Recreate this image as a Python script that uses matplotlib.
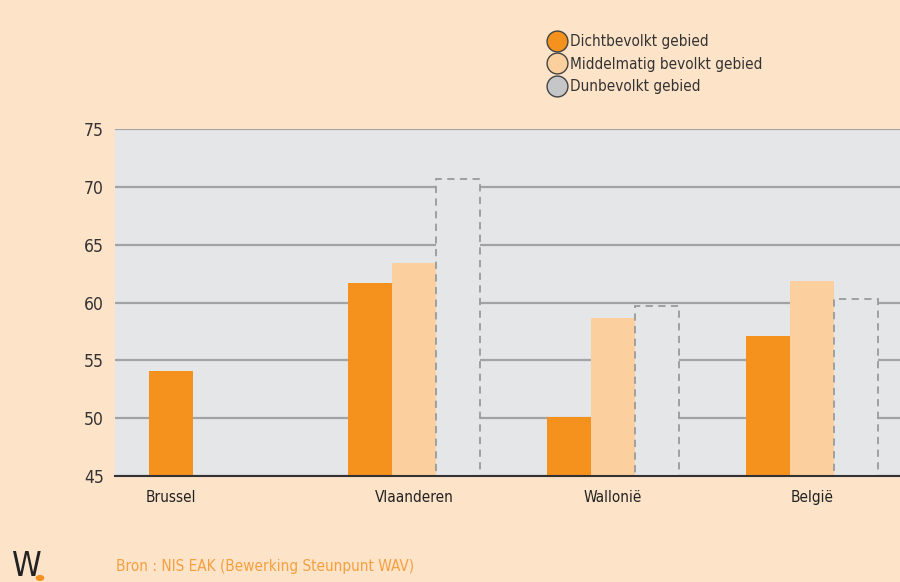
import matplotlib.pyplot as plt
from matplotlib.lines import Line2D
import numpy as np

regions = ['Brussel', 'Vlaanderen', 'Wallonië', 'België']
dicht = [54.1, 61.7, 50.1, 57.1]
middel = [None, 63.4, 58.7, 61.9]
dun = [None, 70.7, 59.7, 60.3]
series_names = ['Dichtbevolkt gebied', 'Middelmatig bevolkt gebied', 'Dunbevolkt gebied']
yticks = [45, 50, 55, 60, 65, 70, 75]

bg = '#fde3c8'
plotbg = '#e5e6e8'
orange = '#f5921e'
light = '#fccf9e'
greyline = '#a3a3a3'

plt.rcParams['font.family'] = ['DejaVu Sans']
plt.rcParams['font.stretch'] = 'condensed'

fig = plt.figure(figsize=(9, 5.82), dpi=100, facecolor=bg)
ax = fig.add_axes([115 / 900, 1 - 476 / 582, 785 / 900, 347 / 582])
ax.set_facecolor(plotbg)

x = np.arange(len(regions))
w = 0.22
base = 45
for i in range(len(regions)):
    if dicht[i] is not None:
        ax.bar(x[i] - w, dicht[i] - base, w, bottom=base, color=orange, zorder=3)
    if middel[i] is not None:
        ax.bar(x[i], middel[i] - base, w, bottom=base, color=light, zorder=3)
    if dun[i] is not None:
        ax.bar(x[i] + w, dun[i] - base, w, bottom=base, facecolor=plotbg,
               edgecolor='#9a9a9a', linestyle=(0, (4, 3)), linewidth=1.3, zorder=3)

ax.set_ylim(45, 75)
ax.set_xlim(-0.501, 3.441)
ax.set_yticks(yticks)
ax.yaxis.grid(True, color=greyline, linewidth=1.6, zorder=0)
ax.set_axisbelow(True)
for s in ['top', 'right', 'left']:
    ax.spines[s].set_visible(False)
ax.spines['bottom'].set_color('#333333')
ax.spines['bottom'].set_linewidth(1.5)
ax.spines['bottom'].set_zorder(5)
ax.tick_params(axis='y', length=0, pad=8, labelsize=12.5, labelcolor='#333333')
ax.tick_params(axis='x', length=0, pad=10, labelsize=11, labelcolor='#222222')
ax.set_xticks([x[0] - w, x[1], x[2], x[3]])
ax.set_xticklabels(regions)

handles = [Line2D([], [], marker='o', linestyle='none', markersize=15,
                  markerfacecolor=c, markeredgecolor='#444444', markeredgewidth=1)
           for c in [orange, light, '#c5c6c8']]
fig.legend(handles, series_names, loc='upper left', bbox_to_anchor=(541 / 900, 1 - 28 / 582),
           frameon=False, fontsize=11, handletextpad=0.2, labelspacing=0.5,
           borderaxespad=0, handlelength=1.3, labelcolor='#333333')

fig.text(116 / 900, 1 - 566 / 582, 'Bron : NIS EAK (Bewerking Steunpunt WAV)',
         color='#f5a040', fontsize=11, va='center')
fig.text(12 / 900, 1 - 566 / 582, 'W', color='#222222', fontsize=24,
         va='center')
fig.patches.append(plt.Circle((40 / 900, 1 - 578 / 582), 0.004, color=orange,
                              transform=fig.transFigure, figure=fig))

fig.savefig('out.png', dpi=100, facecolor=bg)
